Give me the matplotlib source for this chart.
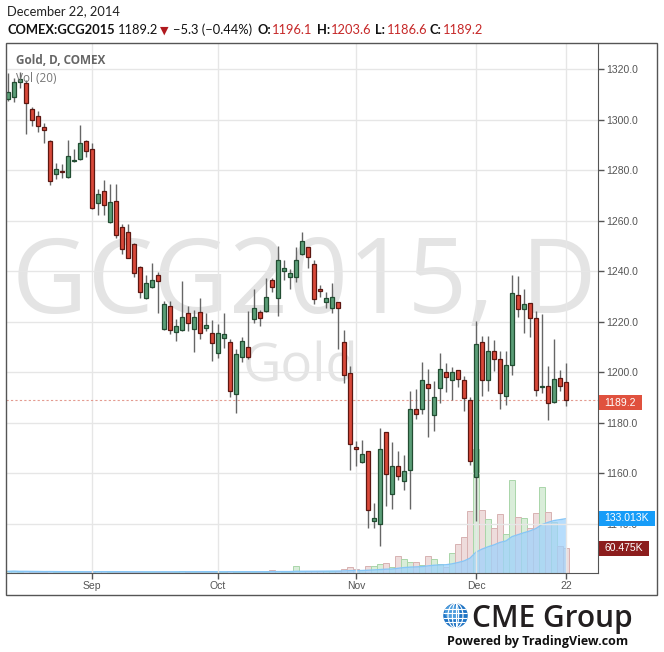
import matplotlib
matplotlib.use('Agg')
import matplotlib.pyplot as plt
from matplotlib.patches import Rectangle, Circle, Ellipse
import numpy as np
import pandas as pd

# daily candles, GCG2015 (Feb 2015 gold), mid-Aug to Dec 22, 2014
opens = [1308.0, 1309.0, 1314.7, 1314.4, 1304.1, 1301.4, 1297.0, 1291.6, 1278.5, 1279.6,
         1277.4, 1283.6, 1284.4, 1291.6, 1288.3, 1267.0, 1271.8, 1259.4, 1267.8, 1257.5,
         1255.7, 1250.6, 1241.7, 1229.3, 1233.6, 1238.7, 1217.0, 1226.1, 1215.8, 1216.6,
         1223.4, 1217.0, 1223.8, 1217.4, 1215.5, 1207.6, 1213.5, 1212.1, 1191.3, 1206.2,
         1210.0, 1221.0, 1223.8, 1224.1, 1236.4, 1229.3, 1240.2, 1237.8, 1237.8, 1246.7,
         1249.4, 1242.7, 1232.9, 1227.9, 1225.3, 1227.8, 1211.9, 1199.6, 1170.4, 1164.5,
         1168.8, 1141.0, 1140.0, 1176.3, 1151.8, 1163.1, 1157.1, 1161.4, 1185.4, 1185.4,
         1195.3, 1183.0, 1193.7, 1200.0, 1197.1, 1200.8, 1196.9, 1189.0, 1158.5, 1211.9,
         1196.9, 1208.3, 1205.2, 1190.5, 1202.8, 1230.4, 1225.2, 1227.3, 1221.4, 1194.2,
         1194.6, 1188.4, 1197.7, 1196.1]
highs = [1318.3, 1316.3, 1318.9, 1315.5, 1304.9, 1303.2, 1298.6, 1291.8, 1282.8, 1282.3,
         1292.0, 1288.2, 1297.8, 1292.0, 1290.7, 1272.7, 1276.2, 1274.4, 1274.4, 1258.6,
         1258.6, 1251.2, 1242.0, 1238.5, 1243.2, 1239.6, 1228.2, 1228.2, 1221.0, 1236.1,
         1226.2, 1224.6, 1229.4, 1223.4, 1220.7, 1219.1, 1223.4, 1213.1, 1209.1, 1214.1,
         1224.1, 1232.9, 1224.6, 1237.2, 1237.2, 1250.0, 1244.6, 1240.7, 1249.7, 1255.6,
         1249.6, 1244.4, 1234.5, 1231.7, 1235.4, 1228.0, 1216.7, 1202.5, 1173.0, 1173.3,
         1169.0, 1148.3, 1177.9, 1176.5, 1172.6, 1168.9, 1167.4, 1192.6, 1193.3, 1204.1,
         1201.3, 1196.5, 1207.5, 1203.6, 1202.2, 1201.0, 1198.6, 1190.4, 1220.3, 1214.4,
         1214.4, 1212.8, 1208.4, 1208.4, 1238.5, 1238.2, 1232.8, 1227.5, 1224.2, 1223.1,
         1202.5, 1213.2, 1200.9, 1203.6]
lows = [1307.2, 1307.1, 1312.4, 1294.2, 1297.6, 1294.9, 1290.7, 1274.3, 1276.5, 1277.0,
        1277.0, 1283.4, 1284.0, 1285.2, 1264.6, 1262.3, 1262.3, 1259.0, 1253.0, 1247.0,
        1245.2, 1237.6, 1229.3, 1229.0, 1233.4, 1223.6, 1216.8, 1215.0, 1212.4, 1216.4,
        1216.5, 1208.2, 1213.3, 1216.5, 1204.6, 1205.6, 1209.5, 1190.4, 1184.1, 1204.2,
        1205.4, 1219.6, 1218.4, 1223.8, 1231.6, 1222.4, 1236.5, 1232.9, 1235.8, 1246.5,
        1241.4, 1227.1, 1229.7, 1225.4, 1223.3, 1209.1, 1195.9, 1161.2, 1163.0, 1164.1,
        1138.4, 1138.4, 1131.1, 1147.0, 1146.1, 1157.2, 1153.3, 1146.1, 1181.5, 1183.4,
        1174.3, 1176.6, 1188.0, 1192.4, 1189.1, 1194.1, 1184.5, 1163.4, 1141.0, 1190.8,
        1192.8, 1200.7, 1185.6, 1187.0, 1199.1, 1222.0, 1215.7, 1214.1, 1190.8, 1192.0,
        1181.2, 1188.0, 1192.8, 1186.6]
closes = [1311.0, 1314.7, 1315.9, 1306.5, 1299.7, 1297.4, 1295.8, 1275.6, 1280.5, 1279.1,
          1285.6, 1284.1, 1290.7, 1287.5, 1264.9, 1270.5, 1266.3, 1267.5, 1254.4, 1248.6,
          1245.4, 1239.1, 1231.6, 1235.2, 1236.7, 1236.0, 1226.9, 1216.6, 1218.2, 1221.8,
          1219.4, 1221.8, 1215.5, 1218.6, 1211.5, 1215.5, 1215.1, 1192.6, 1207.2, 1212.4,
          1205.9, 1225.3, 1221.4, 1229.7, 1233.9, 1244.6, 1241.1, 1239.3, 1244.6, 1251.8,
          1245.7, 1229.1, 1232.0, 1229.4, 1229.7, 1225.3, 1198.8, 1171.6, 1169.5, 1167.6,
          1145.5, 1142.3, 1169.6, 1159.7, 1163.1, 1158.8, 1161.1, 1185.4, 1183.4, 1196.9,
          1193.7, 1190.4, 1201.2, 1198.0, 1200.0, 1197.2, 1189.8, 1164.9, 1211.1, 1196.9,
          1208.3, 1205.2, 1191.8, 1202.8, 1231.2, 1224.9, 1226.9, 1221.4, 1192.9, 1194.6,
          1188.0, 1197.3, 1194.5, 1189.2]
# volume in thousands of contracts
volumes = [4, 5, 3, 4, 3, 3, 2, 4, 2, 2,
           3, 2, 3, 2, 3, 5, 4, 3, 3, 2,
           3, 3, 3, 3, 3, 3, 3, 3, 3, 4,
           3, 3, 3, 3, 3, 3, 3, 4, 3, 3,
           3, 3, 3, 3, 8, 5, 3, 3, 16, 4,
           5, 4, 5, 5, 6, 5, 10, 14, 9, 7,
           16, 16, 21, 23, 15, 42, 35, 26, 26, 19,
           40, 35, 21, 14, 48, 69, 86, 150, 300, 152,
           130, 108, 142, 94, 224, 135, 132, 110, 146, 207,
           147, 124, 64.5, 60.475]

month_ticks = [14, 35, 58, 78, 93]
month_labels = ['Sep', 'Oct', 'Nov', 'Dec', '22']
price_ticks = [1140, 1160, 1180, 1200, 1220, 1240, 1260, 1280, 1300, 1320]
last_price = 1189.2

W, H = 664, 652


def fx(x):
    return x / W


def fy(y):
    return 1 - y / H


green_fill, green_edge = '#5b9e77', '#224d32'
red_fill, red_edge = '#d9493a', '#5c1711'
grid_col = '#e6e6e6'
text_col = '#555555'

fig = plt.figure(figsize=(W / 100, H / 100), dpi=100)
fig.patch.set_facecolor('white')

rect = [fx(6), fy(573), (598 - 6) / W, (573 - 44) / H]
xlim = (-0.333, 98.333)

# ------------------------------------------------------------------ #
# volume pane (behind the candles)
ax_vol = fig.add_axes(rect, zorder=0)
ax_vol.set_xlim(*xlim)
ax_vol.set_ylim(0, 529 * 2.42)
ax_vol.axis('off')

ax_vol.text(fx(304), fy(313), 'GCG2015, D', transform=fig.transFigure, ha='center',
            va='baseline', fontsize=75, color='#e4e4e4', family='Open Sans', zorder=0)
ax_vol.text(fx(301), fy(382), 'Gold', transform=fig.transFigure, ha='center',
            va='baseline', fontsize=38, color='#e4e4e4', family='Open Sans', zorder=0)

idx = np.arange(len(closes))
up = np.array(closes) >= np.array(opens)
vol_fill = np.where(up, '#d9edd9', '#eedcdc')
vol_edge = np.where(up, '#a9d6a9', '#d8b2b2')
ax_vol.bar(idx, volumes, width=1.0, color=vol_fill, edgecolor=vol_edge, linewidth=0.7, zorder=1)

vol_ma = pd.Series(volumes).rolling(20, min_periods=1).mean()
ax_vol.fill_between(idx, 0, vol_ma, color='#9fd2fb', alpha=0.75, linewidth=0, zorder=2)
ax_vol.plot(idx, vol_ma, color='#86c6f7', linewidth=1.0, zorder=3)

# ------------------------------------------------------------------ #
# price pane
ax = fig.add_axes(rect, zorder=1)
ax.patch.set_visible(False)
ax.set_xlim(*xlim)
ax.set_ylim(1120.6, 1329.9)

ax.set_axisbelow(True)
ax.grid(True, color=grid_col, linewidth=1)

ax.axhline(last_price, color='#e39b90', linestyle=(0, (2, 2)), linewidth=0.8, zorder=1)

ax.vlines(idx, lows, highs, color='#666666', linewidth=1.0, zorder=2)
body_bottom = np.minimum(opens, closes)
body_height = np.abs(np.array(closes) - np.array(opens))
ax.bar(idx, body_height, bottom=body_bottom, width=0.68,
       color=np.where(up, green_fill, red_fill),
       edgecolor=np.where(up, green_edge, red_edge), linewidth=0.9, zorder=3)

ax.yaxis.tick_right()
ax.set_yticks(price_ticks, [f'{v:.1f}' for v in price_ticks])
ax.set_xticks(month_ticks, month_labels)
ax.tick_params(axis='y', colors=text_col, labelcolor=text_col, length=4, width=1,
               pad=2, labelsize=7.5)
ax.tick_params(axis='x', colors=text_col, labelcolor=text_col, length=4, width=1,
               pad=2, labelsize=7.5)
for lbl in ax.get_xticklabels() + ax.get_yticklabels():
    lbl.set_family('Liberation Sans')
ax.spines['top'].set_visible(False)
ax.spines['left'].set_visible(False)
ax.spines['right'].set_color(text_col)
ax.spines['bottom'].set_color(text_col)

# outer frame
fig.add_artist(Rectangle((fx(5.5), fy(595)), (657 - 5.5) / W, (595 - 43) / H,
                         transform=fig.transFigure, fill=False, edgecolor=text_col,
                         linewidth=1, zorder=4))

# price / volume boxes on the right scale
boxes = [(395, 642, '#e0513e', f'{last_price:.1f}'),
         (510.5, 655, '#169cf8', '133.013K'),
         (540.5, 649, '#8c1d1d', f'{volumes[-1]:.3f}K')]
for top, right, col, txt in boxes:
    fig.add_artist(Rectangle((fx(598.5), fy(top + 15)), (right - 598.5) / W, 15 / H,
                             transform=fig.transFigure, facecolor=col, edgecolor='none',
                             zorder=5))
    fig.text(fx((598.5 + right) / 2), fy(top + 7.5), txt, ha='center', va='center',
             color='white', fontsize=7.5, family='Liberation Sans', zorder=6)

# pane titles
fig.text(fx(15.5), fy(64.5), 'Gold, D, COMEX', fontsize=8.5, fontweight='bold',
         color='#666666', family='Open Sans', va='baseline')
fig.text(fx(15.5), fy(82), 'Vol (20)', fontsize=8.5, color='#777777',
         family='Open Sans', va='baseline')

# header
fam = ['Lato', 'DejaVu Sans']
fig.text(fx(7.3), fy(15.5), 'December 22, 2014', fontsize=9.3, color='#222222',
         family=fam, va='baseline')
head = [(7.3, 'COMEX:GCG2015', 'bold', '#111111'),
        (118, '1189.2', 'normal', '#111111'),
        (173, '\u22125.3 (\u22120.44%)', 'normal', '#111111'),
        (258, 'O:', 'bold', '#111111'),
        (272, '1196.1', 'normal', '#c62828'),
        (317, 'H:', 'bold', '#111111'),
        (331, '1203.6', 'normal', '#c62828'),
        (375, 'L:', 'bold', '#111111'),
        (387, '1186.6', 'normal', '#c62828'),
        (430, 'C:', 'bold', '#111111'),
        (443, '1189.2', 'normal', '#c62828')]
for x, txt, wt, col in head:
    fig.text(fx(x), fy(33.5), txt, fontsize=9.3, fontweight=wt, color=col,
             family=fam, va='baseline')
fig.text(fx(159.5), fy(33.5), '\u25bc', fontsize=8, color='#b0191e',
         family='DejaVu Sans', va='baseline')

# ------------------------------------------------------------------ #
# CME Group logo
lax = fig.add_axes([fx(443), fy(628), 25 / W, 25 / H])
lax.set_xlim(-1, 1)
lax.set_ylim(-1, 1)
lax.set_aspect('equal')
lax.axis('off')
globe = Circle((0, 0), 0.98, facecolor='#1f74c4', edgecolor='none')
lax.add_patch(globe)
lax.add_patch(Circle((-0.25, 0.25), 0.6, facecolor='#6db8ee', edgecolor='none',
                     alpha=0.6, clip_path=globe))
for yy in (-0.55, -0.2, 0.2, 0.55):
    ln, = lax.plot([-1, 1], [yy, yy], color='white', linewidth=0.8)
    ln.set_clip_path(globe)
for w in (0.5, 1.2):
    e = Ellipse((0, 0), w, 1.96, fill=False, edgecolor='white', linewidth=0.8)
    lax.add_patch(e)
lax.plot([0, 0], [-0.98, 0.98], color='white', linewidth=0.8)

fig.text(fx(472), fy(627), 'CME Group', fontsize=21.5, fontweight='semibold',
         color='#231f20', family='Open Sans', va='baseline')
fig.text(fx(447), fy(645.5), 'Powered by TradingView.com', fontsize=9, fontweight='bold',
         color='#111111', family='Open Sans', va='baseline')

fig.savefig('out.png', dpi=100, facecolor='white')
